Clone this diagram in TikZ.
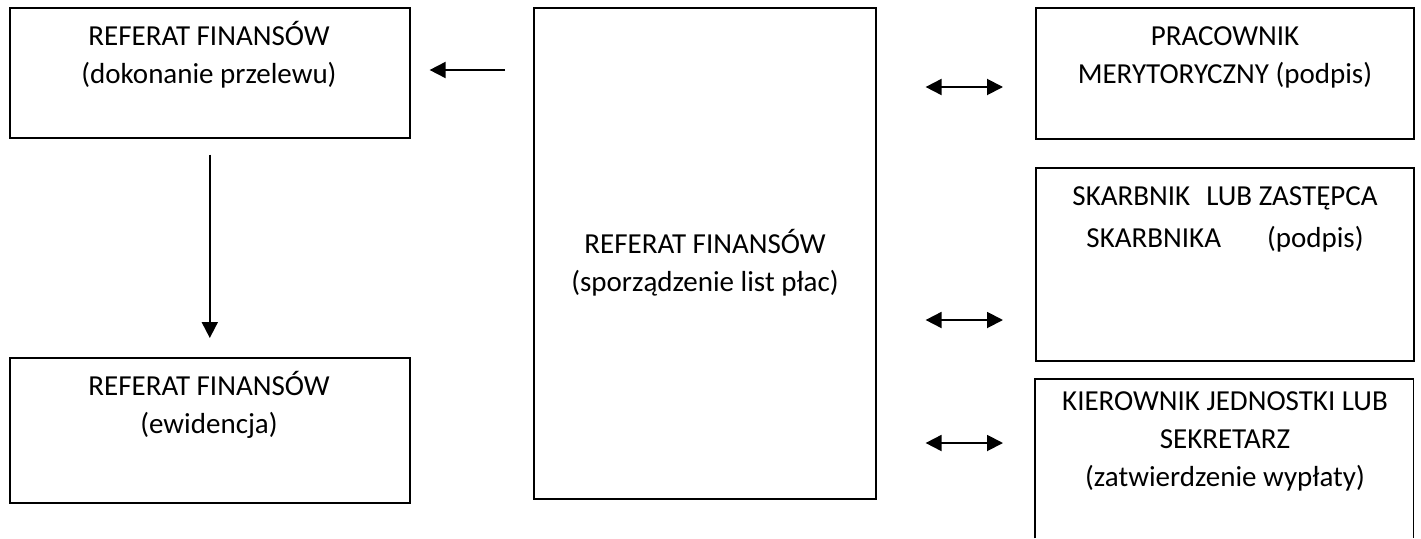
\documentclass[tikz,border=0pt]{standalone}
\usepackage{fontspec}
\setmainfont{Carlito}
\usetikzlibrary{arrows.meta}

\tikzset{
  box/.style={draw, line width=1.6pt, inner sep=0pt, anchor=north west},
  % anchored at the baseline of the last line
  txt/.style={inner sep=0pt, align=center, anchor=base,
              font=\fontsize{29}{38}\selectfont},
  arr/.style={line width=1.9pt, -{Triangle[length=16pt,width=16pt]}},
  dblarr/.style={line width=1.9pt, {Triangle[length=16pt,width=16pt]}-{Triangle[length=16pt,width=16pt]}},
}

\begin{document}
\begin{tikzpicture}[x=1pt, y=-1pt]
\useasboundingbox (0,0) rectangle (1421,538);

% left column
\node[box, minimum width=400pt, minimum height=130pt] (A) at (9,7) {};
\node[txt] (At) at (209,83) {REFERAT FINANSÓW\\(dokonanie przelewu)};

\node[box, minimum width=400pt, minimum height=145pt] (B) at (9,357) {};
\node[txt] (Bt) at (209,433) {REFERAT FINANSÓW\\(ewidencja)};

% central box
\node[box, minimum width=342pt, minimum height=491pt] (C) at (533,7) {};
\node[txt] (Ct) at (705,291) {REFERAT FINANSÓW\\(sporządzenie list płac)};

% right column
\node[box, minimum width=378pt, minimum height=131pt] (R1) at (1035,7) {};
\node[txt] (R1t) at (1225,83) {PRACOWNIK\\MERYTORYCZNY (podpis)};

\node[box, minimum width=378pt, minimum height=193pt] (R2) at (1035,167) {};
\node[txt] (R2t) at (1225,247) {SKARBNIK\hspace{16pt}LUB ZASTĘPCA\\[4pt]SKARBNIKA\hspace{46pt}(podpis)};

% open-bottomed box running off the page
\node[inner sep=0pt, anchor=north west, minimum width=378pt, minimum height=159pt] (R3) at (1035,379) {};
\draw[line width=1.6pt] (R3.south west) -- (R3.north west) -- (R3.north east) -- (R3.south east);
\node[txt] (R3t) at (1225,486) {KIEROWNIK JEDNOSTKI LUB\\SEKRETARZ\\(zatwierdzenie wypłaty)};

% arrow levels
\coordinate (y0) at (0,70);
\coordinate (y1) at (0,87);
\coordinate (y2) at (0,320);
\coordinate (y3) at (0,443);

% connectors
\draw[arr, shorten <=28pt, shorten >=19pt] (C.west |- y0) -- (A.east |- y0);
\draw[arr, shorten <=16pt, shorten >=19pt] (A.south) -- (B.north);
\draw[dblarr, shorten <=49pt, shorten >=32pt] (C.east |- y1) -- (R1.west |- y1);
\draw[dblarr, shorten <=49pt, shorten >=32pt] (C.east |- y2) -- (R2.west |- y2);
\draw[dblarr, shorten <=49pt, shorten >=32pt] (C.east |- y3) -- (R3.west |- y3);
\end{tikzpicture}
\end{document}
